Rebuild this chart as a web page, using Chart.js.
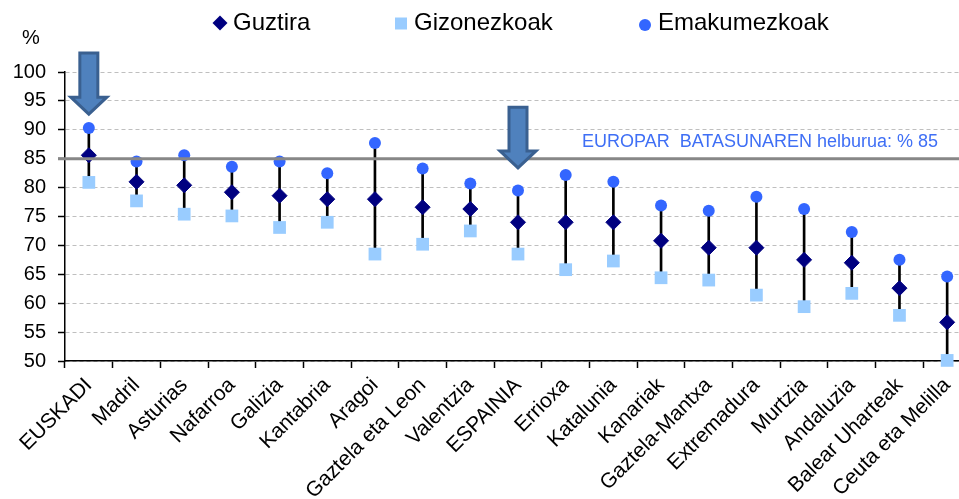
<!DOCTYPE html>
<html>
<head>
<meta charset="utf-8">
<script src="https://cdn.jsdelivr.net/npm/chart.js@4.4.0/dist/chart.umd.min.js"></script>
<style>
  html, body { margin: 0; padding: 0; background: #fff; overflow: hidden; }
  #wrap { width: 980px; height: 499px; }
</style>
</head>
<body>
<div id="wrap"><canvas id="myChart" width="980" height="499"></canvas></div>
<script>
// datuak
const labels = ['EUSKADI', 'Madril', 'Asturias', 'Nafarroa', 'Galizia', 'Kantabria', 'Aragoi',
  'Gaztela eta Leon', 'Valentzia', 'ESPAINIA', 'Errioxa', 'Katalunia', 'Kanariak',
  'Gaztela-Mantxa', 'Extremadura', 'Murtzia', 'Andaluzia', 'Balear Uharteak', 'Ceuta eta Melilla'];
const guztira = [85.6, 81.0, 80.4, 79.2, 78.6, 78.0, 78.0, 76.6, 76.3, 74.0, 74.0, 74.0, 70.8, 69.6, 69.6, 67.5, 67.0, 62.6, 56.7];
const gizonezkoak = [80.9, 77.7, 75.4, 75.1, 73.1, 74.0, 68.5, 70.2, 72.5, 68.5, 65.8, 67.3, 64.4, 64.0, 61.4, 59.4, 61.7, 57.9, 50.1];
const emakumezkoak = [90.3, 84.5, 85.6, 83.6, 84.5, 82.5, 87.7, 83.3, 80.7, 79.5, 82.2, 81.0, 76.9, 76.0, 78.4, 76.3, 72.3, 67.5, 64.6];
const yTicks = [50, 55, 60, 65, 70, 75, 80, 85, 90, 95, 100];

const targetValue = 85;
const targetText = 'EUROPAR  BATASUNAREN helburua: % 85';
const arrowCats = ['EUSKADI', 'ESPAINIA'];
const arrowTop = [103.3, 93.9];
const arrowTip = [92.7, 83.4];

const legendItems = [
  { text: 'Guztira', style: 'diamond', color: '#000080' },
  { text: 'Gizonezkoak', style: 'square', color: '#99CCFF' },
  { text: 'Emakumezkoak', style: 'circle', color: '#3366FF' }
];

const ranges = labels.map((l, i) => [Math.min(gizonezkoak[i], emakumezkoak[i]), Math.max(gizonezkoak[i], emakumezkoak[i])]);

// helburu marra, geziak, legenda
const extras = {
  id: 'extras',
  afterDatasetsDraw(chart) {
    const { ctx, chartArea, scales: { x, y } } = chart;
    // 85eko marra
    const ty = y.getPixelForValue(targetValue);
    ctx.save();
    ctx.strokeStyle = '#878787';
    ctx.lineWidth = 3;
    ctx.beginPath();
    ctx.moveTo(chartArea.left - 7, ty);
    ctx.lineTo(chart.width, ty);
    ctx.stroke();

    ctx.fillStyle = '#3F6FF5';
    ctx.font = '18px "Liberation Sans", Arial, sans-serif';
    ctx.textBaseline = 'middle';
    ctx.textAlign = 'left';
    ctx.fillText(targetText, 582, ty - 17);

    // geziak
    arrowCats.forEach((cat, i) => {
      const cx = x.getPixelForValue(labels.indexOf(cat));
      const top = y.getPixelForValue(arrowTop[i]);
      const tip = y.getPixelForValue(arrowTip[i]);
      const headStart = tip - 17;
      ctx.beginPath();
      ctx.moveTo(cx - 9, top);
      ctx.lineTo(cx + 9, top);
      ctx.lineTo(cx + 9, headStart);
      ctx.lineTo(cx + 18, headStart);
      ctx.lineTo(cx, tip);
      ctx.lineTo(cx - 18, headStart);
      ctx.lineTo(cx - 9, headStart);
      ctx.closePath();
      ctx.fillStyle = '#4F81BD';
      ctx.fill();
      ctx.strokeStyle = '#3A6090';
      ctx.lineWidth = 3;
      ctx.lineJoin = 'miter';
      ctx.stroke();
    });

    // % etiketa
    ctx.fillStyle = '#000';
    ctx.font = '20px "Liberation Sans", Arial, sans-serif';
    ctx.textAlign = 'left';
    ctx.fillText('%', 22, 38);

    // legenda
    const lx = [220, 401, 645];
    ctx.font = '24px "Liberation Sans", Arial, sans-serif';
    legendItems.forEach((it, i) => {
      const cx = lx[i];
      const cy = 23;
      ctx.fillStyle = it.color;
      ctx.beginPath();
      if (it.style === 'diamond') {
        ctx.moveTo(cx, cy - 7.5); ctx.lineTo(cx + 7.5, cy); ctx.lineTo(cx, cy + 7.5); ctx.lineTo(cx - 7.5, cy);
        ctx.closePath();
      } else if (it.style === 'square') {
        ctx.rect(cx - 6, cy - 5.5, 12, 12);
      } else {
        ctx.arc(cx, cy + 2, 6, 0, Math.PI * 2);
      }
      ctx.fill();
      ctx.fillStyle = '#000';
      ctx.fillText(it.text, cx + 13, cy);
    });
    ctx.restore();
  }
};

const ctx = document.getElementById('myChart').getContext('2d');
const myChart = new Chart(ctx, {
  data: {
    labels: labels,
    datasets: [{
      type: 'line',
      label: 'Guztira',
      data: guztira,
      showLine: false,
      pointStyle: 'rectRot',
      pointRadius: 7.5,
      pointBackgroundColor: '#000080',
      pointBorderColor: '#000080',
      pointBorderWidth: 1,
      clip: false,
      order: 1
    }, {
      type: 'line',
      label: 'Emakumezkoak',
      data: emakumezkoak,
      showLine: false,
      pointStyle: 'circle',
      pointRadius: 6,
      pointBackgroundColor: '#3366FF',
      pointBorderColor: '#3366FF',
      pointBorderWidth: 0,
      clip: false,
      order: 2
    }, {
      type: 'line',
      label: 'Gizonezkoak',
      data: gizonezkoak,
      showLine: false,
      pointStyle: 'rect',
      pointRadius: 9,
      pointBackgroundColor: '#99CCFF',
      pointBorderColor: '#99CCFF',
      pointBorderWidth: 0,
      clip: false,
      order: 3
    }, {
      type: 'bar',
      label: 'tartea',
      data: ranges,
      backgroundColor: '#000',
      barThickness: 2,
      order: 4
    }]
  },
  options: {
    responsive: false,
    animation: false,
    devicePixelRatio: 1,
    layout: { padding: { top: 72, left: 0, right: 3, bottom: 0 } },
    plugins: {
      legend: { display: false },
      tooltip: { enabled: false }
    },
    scales: {
      x: {
        type: 'category',
        offset: true,
        grid: { drawOnChartArea: false, drawTicks: true, tickLength: 7, tickColor: '#000', tickWidth: 1.5, offset: true },
        border: { color: '#000', width: 1.5 },
        ticks: {
          autoSkip: false, minRotation: 45, maxRotation: 45, padding: 5,
          color: '#000', font: { family: '"Liberation Sans", Arial, sans-serif', size: 21 }
        },
        afterFit: s => { s.height = 138; }
      },
      y: {
        min: 50,
        max: 100,
        afterBuildTicks: s => { s.ticks = yTicks.map(v => ({ value: v })); },
        grid: { color: '#BFBFBF', lineWidth: 1, tickLength: 7, tickColor: '#000', tickWidth: 1.5, tickBorderDash: [] },
        border: { color: '#000', width: 1.5, dash: [4, 3] },
        ticks: {
          padding: 12, color: '#000',
          font: { family: '"Liberation Sans", Arial, sans-serif', size: 20 }
        },
        afterFit: s => { s.width = 65; }
      }
    }
  },
  plugins: [extras]
});
</script>
</body>
</html>
